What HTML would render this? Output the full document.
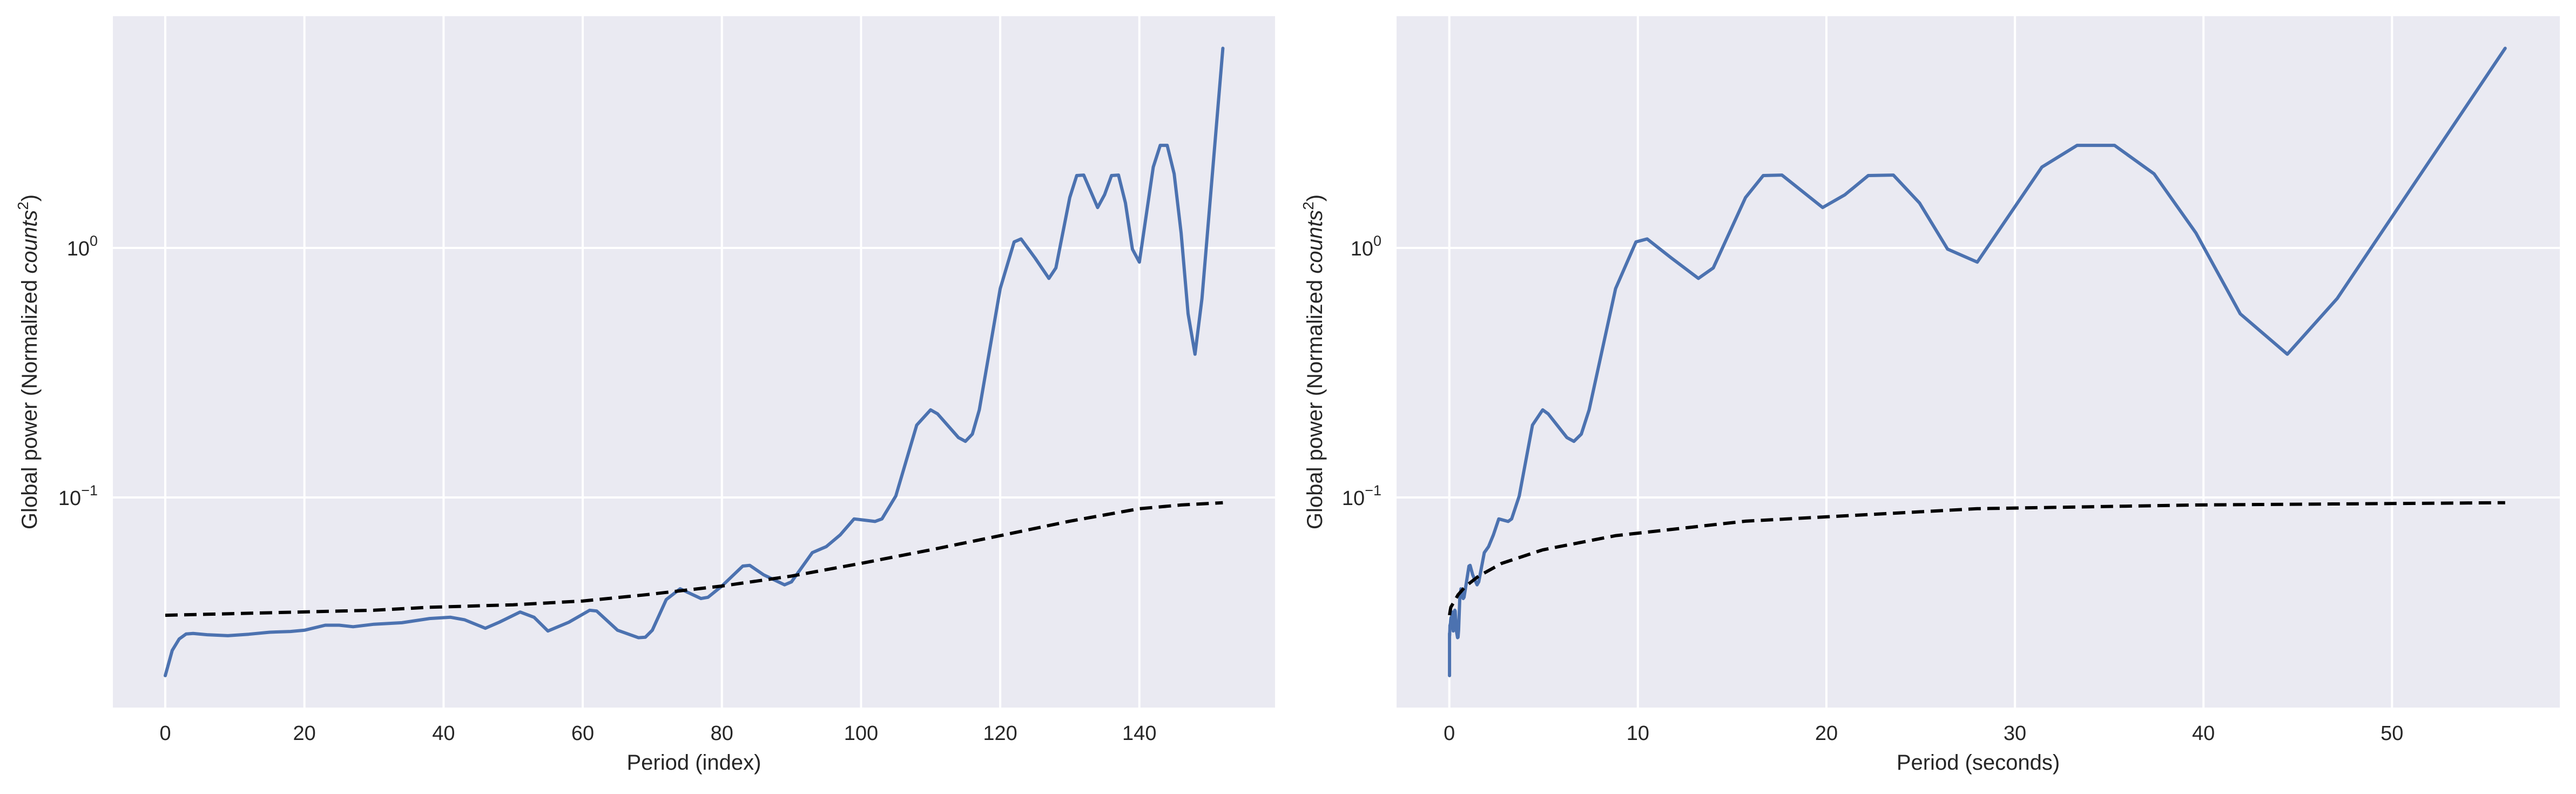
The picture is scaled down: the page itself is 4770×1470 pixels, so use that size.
<!DOCTYPE html>
<html><head><meta charset="utf-8"><style>
html,body{margin:0;padding:0;background:#fff;}
svg{display:block;font-family:"Liberation Sans",Arial,sans-serif;}
</style></head><body>
<svg id="fig" width="4770" height="1470" viewBox="0 0 4770 1470" xmlns="http://www.w3.org/2000/svg"></svg>
<script>
// Sample indices (period index) and global power
const sampleIdx = [0,1,2,3,4,6,9,12,15,18,20,23,25,27,30,34,38,41,43,46,48,51,53,55,58,61,62,65,68,69,70,72,74,77,78,80,83,84,86,89,90,93,95,97,99,102,103,105,108,110,111,114,115,116,117,120,122,123,125,127,128,130,131,132,134,135,136,137,138,139,140,142,143,144,145,146,147,148,149,152];
const samplePeriodSec = [0.00861,0.00913,0.00967,0.01024,0.01085,0.01218,0.01449,0.01723,0.02048,0.02436,0.02734,0.03252,0.03650,0.04097,0.04872,0.06138,0.07734,0.09197,0.1032,0.1228,0.1378,0.1639,0.1840,0.2065,0.2455,0.2920,0.3094,0.3679,0.4375,0.4636,0.4911,0.5512,0.6187,0.7358,0.7795,0.875,1.0405,1.1024,1.2375,1.4716,1.559,1.854,2.081,2.336,2.622,3.118,3.304,3.708,4.410,4.950,5.244,6.236,6.607,7.0,7.416,8.819,9.899,10.49,11.77,13.21,14.0,15.71,16.65,17.64,19.80,20.98,22.22,23.55,24.94,26.43,28.0,31.43,33.30,35.28,37.38,39.60,41.95,44.45,47.09,56.0];
const powerLog10 = [-1.714,-1.613,-1.567,-1.547,-1.545,-1.550,-1.554,-1.548,-1.540,-1.537,-1.532,-1.512,-1.512,-1.518,-1.508,-1.502,-1.485,-1.480,-1.490,-1.524,-1.500,-1.459,-1.480,-1.535,-1.500,-1.452,-1.455,-1.532,-1.562,-1.560,-1.532,-1.409,-1.366,-1.405,-1.400,-1.355,-1.275,-1.272,-1.310,-1.350,-1.338,-1.221,-1.197,-1.150,-1.086,-1.096,-1.086,-0.994,-0.710,-0.649,-0.665,-0.760,-0.775,-0.746,-0.649,-0.163,0.024,0.036,-0.040,-0.122,-0.080,0.202,0.290,0.292,0.162,0.213,0.290,0.292,0.180,-0.005,-0.057,0.324,0.411,0.411,0.297,0.060,-0.264,-0.426,-0.203,0.800];
// Significance level (dashed)
const sigIdx = [0,30,38,50,60,69,80,90,100,110,120,130,140,146,152];
const sigPeriodSec = [0.00861,0.04872,0.07734,0.1547,0.2756,0.4636,0.875,1.559,2.778,4.950,8.819,15.71,28.0,39.60,56.0];
const sigLog10 = [-1.472,-1.452,-1.440,-1.430,-1.415,-1.390,-1.355,-1.315,-1.264,-1.210,-1.153,-1.095,-1.045,-1.030,-1.021];
const leftTicks = [0,20,40,60,80,100,120,140];
const rightTicks = [0,10,20,30,40,50];
const yTicks = [0,-1];

const NS = "http://www.w3.org/2000/svg";
const svgRoot = document.getElementById('fig');
function mk(tag, attrs, parent){const e=document.createElementNS(NS,tag);for(const k in attrs)e.setAttribute(k,attrs[k]);(parent||svgRoot).appendChild(e);return e;}

const plotTop=30, plotBottom=1310;
const yLogTop=0.9286, yLogBot=-1.842;
function yPix(l){return plotTop+(yLogTop-l)/(yLogTop-yLogBot)*(plotBottom-plotTop);}

function panel(name, x0, x1, dmin, dmax, ticks, xs, sxs, xlabel, ylabelX){
  const g = mk('g',{});
  
  
  const xp = v => x0+(v-dmin)/(dmax-dmin)*(x1-x0);
  const bg = mk('rect',{x:x0,y:plotTop,width:x1-x0,height:plotBottom-plotTop,fill:'#eaeaf2'},g);
  
  
  ticks.forEach(t=>{
    const l=mk('line',{x1:xp(t),x2:xp(t),y1:plotTop,y2:plotBottom,stroke:'#fff','stroke-width':4},g);
    
    
    const tx=mk('text',{x:xp(t),y:1370,'font-size':38,fill:'#262626','text-anchor':'middle'},g);
    tx.textContent=t;
    
    
  });
  yTicks.forEach(t=>{
    const y=yPix(t);
    const l=mk('line',{x1:x0,x2:x1,y1:y,y2:y,stroke:'#fff','stroke-width':4},g);
    
    
    const tx=mk('text',{x:x0-28,y:y+14,'font-size':38,fill:'#262626','text-anchor':'end'},g);
    
    
    tx.innerHTML='10<tspan dy="-18" font-size="27">'+(t===0?'0':'\u22121')+'</tspan>';
  });
  const clip = mk('clipPath',{id:name+'-clip'},g);
  mk('rect',{x:x0,y:plotTop,width:x1-x0,height:plotBottom-plotTop},clip);
  const pts = xs.map((v,i)=>xp(v).toFixed(1)+','+yPix(powerLog10[i]).toFixed(1)).join(' ');
  const line = mk('polyline',{points:pts,fill:'none',stroke:'#4c72b0','stroke-width':6,'stroke-linejoin':'round','stroke-linecap':'round','clip-path':'url(#'+name+'-clip)'},g);
  
  
  const spts = sxs.map((v,i)=>xp(v).toFixed(1)+','+yPix(sigLog10[i]).toFixed(1)).join(' ');
  const dl = mk('polyline',{points:spts,fill:'none',stroke:'#000','stroke-width':6,'stroke-dasharray':'23 12','clip-path':'url(#'+name+'-clip)'},g);
  
  
  const xl = mk('text',{x:(x0+x1)/2,y:1425,'font-size':40,fill:'#262626','text-anchor':'middle'},g);
  xl.textContent = xlabel;
  
  
  const yl = mk('text',{x:0,y:0,'font-size':40,fill:'#262626','text-anchor':'middle',transform:'translate('+ylabelX+','+((plotTop+plotBottom)/2)+') rotate(-90)'},g);
  yl.innerHTML='Global power (Normalized <tspan font-style="italic">counts</tspan><tspan dy="-16" font-size="28">2</tspan><tspan dy="16">)</tspan>';
  
  
}
panel('left-panel', 209, 2361, -7.53, 159.5, leftTicks, sampleIdx, sigIdx, 'Period (index)', 68);
panel('right-panel', 2586, 4740, -2.8, 58.9, rightTicks, samplePeriodSec, sigPeriodSec, 'Period (seconds)', 2448);
</script>
</body></html>
